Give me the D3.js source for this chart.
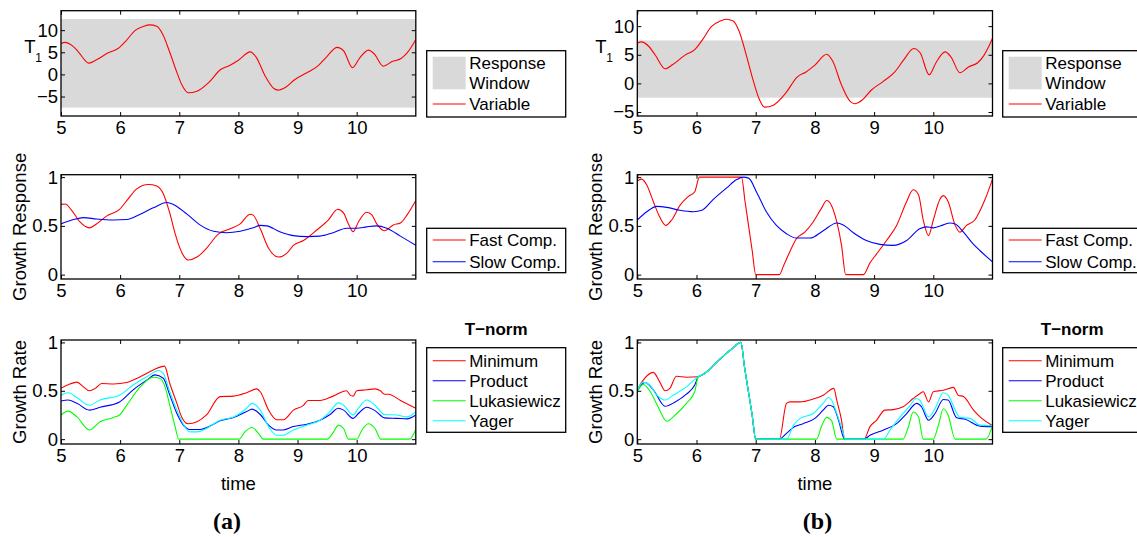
<!DOCTYPE html>
<html>
<head>
<meta charset="utf-8">
<script src="https://cdn.jsdelivr.net/npm/d3@7"></script>
<style>
body { margin: 0; background: #fff; }
text { font-family: "Liberation Sans", Arial, Helvetica, sans-serif; }
</style>
</head>
<body>
<div id="chart"></div>
<script>
// ---- data ----
const timeTicks = [5, 6, 7, 8, 9, 10];
const t1Ticks = [-5, 0, 5, 10];
const unitTicks = [0, 0.5, 1];

const responseWindowA = [-7.5, 12.5];
const responseWindowB = [-2.5, 7.5];

// T1 variable (same signal in both panels)
const t1Variable = [[5.0,7.0],[5.07,7.25],[5.2,6.4],[5.3,5.0],[5.47,2.55],[5.6,3.3],[5.8,4.9],[5.97,5.9],[6.1,7.6],
  [6.25,9.9],[6.4,10.9],[6.5,11.2],[6.62,10.9],[6.72,9.1],[6.85,4.6],[6.95,0.8],[7.05,-2.5],[7.15,-4.15],[7.3,-3.8],
  [7.5,-1.8],[7.7,1.1],[7.85,2.0],[8.0,3.2],[8.2,5.1],[8.3,3.9],[8.45,-0.3],[8.6,-3.2],[8.67,-3.55],[8.8,-2.9],
  [8.95,-1.2],[9.15,0.3],[9.35,2.0],[9.5,4.1],[9.67,6.1],[9.78,5.3],[9.93,1.5],[10.05,3.7],[10.2,5.5],[10.3,4.6],
  [10.45,1.85],[10.6,2.9],[10.75,3.6],[10.85,4.8],[10.93,6.3],[11.0,7.9]];

// growth response, panel (a)
const fastA = [[5.0,0.72],[5.07,0.725],[5.18,0.66],[5.32,0.54],[5.48,0.48],[5.6,0.52],[5.77,0.6],[5.99,0.67],[6.14,0.78],
  [6.28,0.88],[6.48,0.925],[6.62,0.91],[6.73,0.83],[6.84,0.63],[6.93,0.42],[7.04,0.23],[7.15,0.15],[7.3,0.18],[7.46,0.27],
  [7.66,0.415],[7.86,0.47],[8.03,0.52],[8.2,0.62],[8.25,0.61],[8.37,0.47],[8.51,0.27],[8.68,0.18],[8.82,0.22],[8.93,0.3],
  [9.1,0.35],[9.33,0.46],[9.52,0.56],[9.68,0.67],[9.78,0.63],[9.86,0.52],[9.94,0.44],[10.03,0.54],[10.17,0.64],[10.26,0.61],
  [10.34,0.52],[10.47,0.45],[10.62,0.51],[10.74,0.53],[10.85,0.61],[11.0,0.76]];
const slowA = [[5.0,0.52],[5.21,0.565],[5.38,0.585],[5.6,0.57],[5.89,0.56],[6.11,0.565],[6.34,0.62],[6.56,0.685],[6.79,0.74],
  [6.9,0.72],[7.13,0.62],[7.35,0.51],[7.58,0.445],[7.8,0.43],[8.03,0.445],[8.25,0.48],[8.37,0.505],[8.48,0.5],[8.7,0.44],
  [8.93,0.4],[9.16,0.39],[9.38,0.395],[9.6,0.43],[9.83,0.475],[10.0,0.475],[10.17,0.49],[10.34,0.5],[10.51,0.475],
  [10.74,0.395],[11.0,0.3]];

// growth response, panel (b)
const fastB = [[5.0,0.96],[5.07,0.98],[5.16,0.92],[5.27,0.75],[5.38,0.59],[5.48,0.505],[5.58,0.56],[5.72,0.71],[5.86,0.8],
  [5.97,0.85],[6.05,1.0],[6.76,1.0],[6.82,0.75],[6.88,0.5],[6.94,0.25],[7.0,0],[7.4,0],[7.47,0.09],[7.58,0.24],[7.69,0.37],
  [7.83,0.435],[7.97,0.54],[8.11,0.68],[8.2,0.76],[8.28,0.71],[8.37,0.54],[8.45,0.3],[8.52,0],[8.82,0],[8.93,0.12],
  [9.04,0.21],[9.21,0.35],[9.38,0.505],[9.55,0.75],[9.66,0.87],[9.75,0.82],[9.83,0.56],[9.92,0.4],[10.0,0.56],[10.11,0.77],
  [10.17,0.81],[10.25,0.75],[10.37,0.505],[10.45,0.435],[10.56,0.505],[10.7,0.56],[10.78,0.645],[10.88,0.78],[11.0,0.98]];
const slowB = [[5.0,0.56],[5.16,0.645],[5.33,0.7],[5.5,0.69],[5.72,0.66],[5.95,0.645],[6.09,0.66],[6.28,0.77],[6.51,0.89],
  [6.68,0.975],[6.79,1.0],[6.88,0.99],[7.02,0.84],[7.18,0.645],[7.35,0.505],[7.52,0.42],[7.69,0.375],[7.92,0.375],
  [8.14,0.45],[8.37,0.53],[8.48,0.51],[8.65,0.43],[8.87,0.35],[9.1,0.31],[9.32,0.3],[9.55,0.35],[9.77,0.47],[9.89,0.49],
  [10.0,0.48],[10.17,0.51],[10.28,0.53],[10.37,0.52],[10.51,0.435],[10.68,0.31],[10.79,0.245],[11.0,0.13]];

// growth rate, panel (a)
const minimumA = [[5.0,0.525],[5.15,0.57],[5.27,0.59],[5.38,0.54],[5.48,0.5],[5.58,0.525],[5.69,0.575],[5.89,0.57],[6.11,0.585],
  [6.34,0.645],[6.56,0.715],[6.75,0.755],[6.84,0.575],[6.96,0.37],[7.04,0.23],[7.15,0.16],[7.3,0.18],[7.46,0.25],[7.69,0.44],
  [7.92,0.445],[8.14,0.48],[8.31,0.52],[8.37,0.49],[8.51,0.3],[8.65,0.2],[8.76,0.2],[8.93,0.3],[9.1,0.35],[9.18,0.4],
  [9.38,0.4],[9.6,0.445],[9.83,0.5],[9.89,0.455],[9.94,0.445],[10.0,0.5],[10.17,0.51],[10.31,0.52],[10.4,0.5],[10.47,0.465],
  [10.54,0.465],[10.74,0.4],[11.0,0.32]];
const productA = [[5.0,0.395],[5.12,0.405],[5.27,0.37],[5.48,0.3],[5.66,0.33],[5.99,0.385],[6.22,0.51],[6.45,0.61],[6.59,0.665],
  [6.73,0.63],[6.84,0.455],[6.96,0.265],[7.07,0.145],[7.18,0.1],[7.35,0.1],[7.52,0.135],[7.69,0.19],[7.92,0.225],[8.14,0.285],
  [8.23,0.31],[8.37,0.255],[8.51,0.145],[8.65,0.095],[8.76,0.095],[8.93,0.13],[9.16,0.155],[9.38,0.195],[9.55,0.255],
  [9.69,0.32],[9.78,0.3],[9.94,0.215],[10.03,0.265],[10.17,0.33],[10.31,0.295],[10.47,0.22],[10.68,0.215],[10.85,0.21],[11.0,0.25]];
const lukasiewiczA = [[5.0,0.25],[5.12,0.29],[5.27,0.23],[5.48,0.095],[5.66,0.18],[5.89,0.225],[5.99,0.25],[6.11,0.35],
  [6.34,0.54],[6.56,0.64],[6.67,0.63],[6.76,0.54],[6.84,0.35],[6.93,0.13],[6.99,0],[8.01,0],[8.11,0.075],[8.23,0.12],
  [8.34,0.06],[8.42,0],[9.5,0],[9.61,0.075],[9.69,0.145],[9.78,0.11],[9.86,0],[10.0,0],[10.09,0.095],[10.2,0.16],
  [10.31,0.11],[10.41,0],[10.89,0],[11.0,0.1]];
const yagerA = [[5.0,0.455],[5.12,0.48],[5.27,0.43],[5.48,0.35],[5.66,0.405],[5.99,0.455],[6.22,0.56],[6.45,0.645],[6.65,0.71],
  [6.73,0.68],[6.84,0.49],[6.96,0.3],[7.07,0.155],[7.18,0.075],[7.3,0.075],[7.46,0.11],[7.69,0.195],[7.92,0.23],[8.14,0.32],
  [8.23,0.37],[8.37,0.3],[8.51,0.13],[8.65,0.04],[8.76,0.04],[8.93,0.095],[9.16,0.145],[9.38,0.195],[9.55,0.285],[9.69,0.375],
  [9.78,0.35],[9.94,0.25],[10.03,0.32],[10.17,0.405],[10.31,0.35],[10.47,0.255],[10.68,0.25],[10.85,0.23],[11.0,0.285]];

// growth rate, panel (b): all four t-norms coincide between ~6.03 and 7.0
const sharedPeakB = [[6.03,0.645],[6.1,0.665],[6.2,0.71],[6.3,0.77],[6.4,0.83],[6.5,0.885],[6.6,0.935],[6.75,1.0],
  [6.81,0.75],[6.875,0.5],[6.94,0.25],[7.0,0]];
const minimumB = [[5.0,0.51],[5.1,0.61],[5.27,0.69],[5.38,0.59],[5.47,0.5],[5.55,0.525],[5.66,0.65],[5.83,0.64]]
  .concat(sharedPeakB, [[7.4,0],[7.52,0.37],[7.58,0.385],[7.75,0.385],[7.97,0.415],[8.14,0.455],[8.32,0.525],[8.37,0.4],
  [8.45,0.195],[8.5,0],[8.83,0],[8.93,0.13],[9.04,0.195],[9.18,0.3],[9.32,0.305],[9.49,0.335],[9.66,0.42],[9.77,0.47],
  [9.83,0.49],[9.92,0.385],[10.0,0.49],[10.17,0.505],[10.34,0.535],[10.42,0.455],[10.51,0.44],[10.68,0.3],[10.79,0.23],[11.0,0.14]]);
const productB = [[5.0,0.5],[5.13,0.585],[5.27,0.51],[5.47,0.34],[5.64,0.385],[5.83,0.465],[5.97,0.56]]
  .concat(sharedPeakB, [[7.4,0],[7.52,0.06],[7.66,0.13],[7.8,0.16],[8.0,0.215],[8.14,0.3],[8.23,0.35],[8.31,0.335],[8.4,0.195],
  [8.5,0],[8.83,0],[8.93,0.04],[9.16,0.095],[9.38,0.16],[9.55,0.265],[9.72,0.37],[9.8,0.335],[9.92,0.195],[10.03,0.265],
  [10.17,0.41],[10.25,0.405],[10.39,0.225],[10.54,0.205],[10.79,0.135],[11.0,0.13]]);
const lukasiewiczB = [[5.0,0.49],[5.1,0.565],[5.21,0.5],[5.35,0.335],[5.5,0.185],[5.64,0.25],[5.83,0.37],[5.97,0.49]]
  .concat(sharedPeakB, [[8.03,0],[8.11,0.13],[8.2,0.225],[8.28,0.195],[8.37,0],[9.49,0],[9.58,0.13],[9.66,0.28],[9.75,0.23],
  [9.83,0],[10.0,0],[10.08,0.13],[10.17,0.315],[10.25,0.25],[10.37,0],[10.89,0],[11.0,0.14]]);
const yagerB = [[5.0,0.51],[5.1,0.59],[5.21,0.56],[5.33,0.455],[5.47,0.405],[5.61,0.455],[5.83,0.54]]
  .concat(sharedPeakB, [[7.52,0],[7.64,0.145],[7.75,0.215],[7.97,0.265],[8.14,0.37],[8.23,0.43],[8.28,0.405],[8.37,0.265],
  [8.48,0.06],[8.51,0],[9.16,0],[9.27,0.095],[9.44,0.23],[9.61,0.35],[9.71,0.42],[9.77,0.405],[9.92,0.23],[10.03,0.317],
  [10.17,0.48],[10.25,0.455],[10.37,0.3],[10.45,0.225],[10.62,0.215],[10.79,0.145],[11.0,0.14]]);

const responseLabels = ['Fast Comp.', 'Slow Comp.'];
const tnormLabels = ['Minimum', 'Product', 'Lukasiewicz', 'Yager'];

// ---- layout ----
const W = 1137, H = 537;
const LEGEND_FONT = 17;
const AXIS_FONT = 18.5;
const RED = '#ff0000', BLUE = '#0000ff', GREEN = '#00ff00', CYAN = '#00ffff', BAND = '#d9d9d9';

const columns = [
  { name: '(a)', left: 61, right: 415.8, legendLeft: 426.7, t1x: 30, ylabX: 25.5, capX: 227,
    t1Domain: [-9.4, 14.4], band: responseWindowA, response: [fastA, slowA],
    rates: [minimumA, productA, lukasiewiczA, yagerA] },
  { name: '(b)', left: 637.3, right: 992.5, legendLeft: 1002.7, t1x: 601, ylabX: 602, capX: 817.5,
    t1Domain: [-5.7, 12.7], band: responseWindowB, response: [fastB, slowB],
    rates: [minimumB, productB, lukasiewiczB, yagerB] }
];
const rows = [
  { top: 10.7, bottom: 116 },
  { top: 174.7, bottom: 279 },
  { top: 340, bottom: 444 }
];

const svg = d3.select('#chart').append('svg')
  .attr('width', W).attr('height', H)
  .style('background', '#fff');

const fmt = d3.format('~g');
let clipCount = 0;
const frames = [];

/**
 * Sets up one axes box and returns its scales and plot layer
 */
const makeAxes = (col, row, yDomain, yTicks) => {
  const x = d3.scaleLinear().domain([5, 11]).range([col.left, col.right]);
  const y = d3.scaleLinear().domain(yDomain).range([row.bottom, row.top]);
  const id = 'clip' + (clipCount++);

  svg.append('clipPath').attr('id', id)
    .append('rect')
    .attr('x', col.left).attr('y', row.top)
    .attr('width', col.right - col.left).attr('height', row.bottom - row.top);

  const plot = svg.append('g').attr('clip-path', `url(#${id})`);
  const frame = svg.append('g');
  frames.push(frame);

  const styleAxis = (g) => {
    g.select('.domain').remove();
    g.attr('font-size', null).attr('font-family', null);
    g.selectAll('line').attr('stroke', '#000').attr('stroke-width', 1);
    g.selectAll('text').attr('fill', '#000').style('font-size', AXIS_FONT + 'px');
  };

  frame.append('g').attr('transform', `translate(0,${row.bottom})`)
    .call(d3.axisBottom(x).tickValues(timeTicks).tickSizeInner(-4).tickSizeOuter(0).tickPadding(4.4).tickFormat(fmt))
    .call(styleAxis);
  frame.append('g').attr('transform', `translate(0,${row.top})`)
    .call(d3.axisTop(x).tickValues(timeTicks).tickSizeInner(-4).tickSizeOuter(0).tickFormat(''))
    .call(styleAxis);
  frame.append('g').attr('transform', `translate(${col.left},0)`)
    .call(d3.axisLeft(y).tickValues(yTicks).tickSizeInner(-4).tickSizeOuter(0).tickPadding(3).tickFormat(fmt))
    .call(styleAxis);
  frame.append('g').attr('transform', `translate(${col.right},0)`)
    .call(d3.axisRight(y).tickValues(yTicks).tickSizeInner(-4).tickSizeOuter(0).tickFormat(''))
    .call(styleAxis);

  frame.append('rect')
    .attr('x', col.left).attr('y', row.top)
    .attr('width', col.right - col.left).attr('height', row.bottom - row.top)
    .attr('fill', 'none').attr('stroke', '#000').attr('stroke-width', 1.3);

  return { x, y, plot };
};

const drawLine = (ax, data, color) => {
  const line = d3.line()
    .x(d => ax.x(d[0]))
    .y(d => ax.y(d[1]))
    .curve(d3.curveMonotoneX);
  ax.plot.append('path')
    .datum(data)
    .attr('d', line)
    .attr('fill', 'none')
    .attr('stroke', color)
    .attr('stroke-width', 1.1);
};

/**
 * Draws a legend box; items: {kind, color, y, textY, labels}
 */
const drawLegend = (left, top, height, items) => {
  const g = svg.append('g');
  g.append('rect')
    .attr('x', left).attr('y', top)
    .attr('width', 139).attr('height', height)
    .attr('fill', '#fff').attr('stroke', '#000').attr('stroke-width', 1.3);
  items.forEach(item => {
    if (item.kind === 'rect') {
      g.append('rect')
        .attr('x', left + 6).attr('y', top + 6)
        .attr('width', 33).attr('height', 32.6)
        .attr('fill', item.color);
    } else {
      g.append('line')
        .attr('x1', left + 6).attr('x2', left + 39)
        .attr('y1', top + item.y).attr('y2', top + item.y)
        .attr('stroke', item.color).attr('stroke-width', 1.1);
    }
    item.labels.forEach((label, i) => {
      g.append('text')
        .attr('x', left + 42.5)
        .attr('y', top + item.textY[i] + 6)
        .style('font-size', LEGEND_FONT + 'px')
        .text(label);
    });
  });
};

columns.forEach(col => {
  // top: T1 with response window
  const a1 = makeAxes(col, rows[0], col.t1Domain, t1Ticks);
  a1.plot.append('rect')
    .attr('x', a1.x(5)).attr('width', a1.x(11) - a1.x(5))
    .attr('y', a1.y(col.band[1])).attr('height', a1.y(col.band[0]) - a1.y(col.band[1]))
    .attr('fill', BAND);
  drawLine(a1, t1Variable, RED);

  // middle: growth response
  const a2 = makeAxes(col, rows[1], [-0.045, 1.025], unitTicks);
  drawLine(a2, col.response[0], RED);
  drawLine(a2, col.response[1], BLUE);

  // bottom: growth rate per t-norm
  const a3 = makeAxes(col, rows[2], [-0.05, 1.025], unitTicks);
  [RED, BLUE, GREEN, CYAN].forEach((c, i) => drawLine(a3, col.rates[i], c));

  // legends
  drawLegend(col.legendLeft, 50.7, 66.3, [
    { kind: 'rect', color: BAND, textY: [12.3, 32.3], labels: ['Response', 'Window'] },
    { kind: 'line', color: RED, y: 53.3, textY: [53.3], labels: ['Variable'] }
  ]);
  drawLegend(col.legendLeft, 228.3, 44.4, [
    { kind: 'line', color: RED, y: 11.7, textY: [11.7], labels: [responseLabels[0]] },
    { kind: 'line', color: BLUE, y: 33.4, textY: [33.4], labels: [responseLabels[1]] }
  ]);
  drawLegend(col.legendLeft, 347.7, 84.6,
    [RED, BLUE, GREEN, CYAN].map((c, i) => ({ kind: 'line', color: c, y: 13 + 20 * i, textY: [13 + 20 * i], labels: [tnormLabels[i]] })));
  svg.append('text')
    .attr('x', col.legendLeft + 69.5).attr('y', 334.5)
    .attr('text-anchor', 'middle')
    .style('font-size', LEGEND_FONT + 'px').style('font-weight', 'bold')
    .text('T\u2212norm');

  // axis labels
  svg.append('text')
    .attr('x', col.t1x).attr('y', 53)
    .attr('text-anchor', 'middle')
    .style('font-size', AXIS_FONT + 'px')
    .text('T');
  svg.append('text')
    .attr('x', col.t1x + 8.5).attr('y', 61.5)
    .attr('text-anchor', 'middle')
    .style('font-size', '12px')
    .text('1');
  svg.append('text')
    .attr('transform', `translate(${col.ylabX},${(rows[1].top + rows[1].bottom) / 2}) rotate(-90)`)
    .attr('text-anchor', 'middle')
    .style('font-size', AXIS_FONT + 'px')
    .text('Growth Response');
  svg.append('text')
    .attr('transform', `translate(${col.ylabX},${(rows[2].top + rows[2].bottom) / 2}) rotate(-90)`)
    .attr('text-anchor', 'middle')
    .style('font-size', AXIS_FONT + 'px')
    .text('Growth Rate');
  svg.append('text')
    .attr('x', (col.left + col.right) / 2).attr('y', 490)
    .attr('text-anchor', 'middle')
    .style('font-size', AXIS_FONT + 'px')
    .text('time');
  svg.append('text')
    .attr('x', col.capX).attr('y', 529)
    .attr('text-anchor', 'middle')
    .style('font-family', '"Liberation Serif", "Times New Roman", serif')
    .style('font-size', '24px').style('font-weight', 'bold')
    .text(col.name);
});

// axes frames sit above the plotted lines
frames.forEach(f => f.raise());
</script>
</body>
</html>
